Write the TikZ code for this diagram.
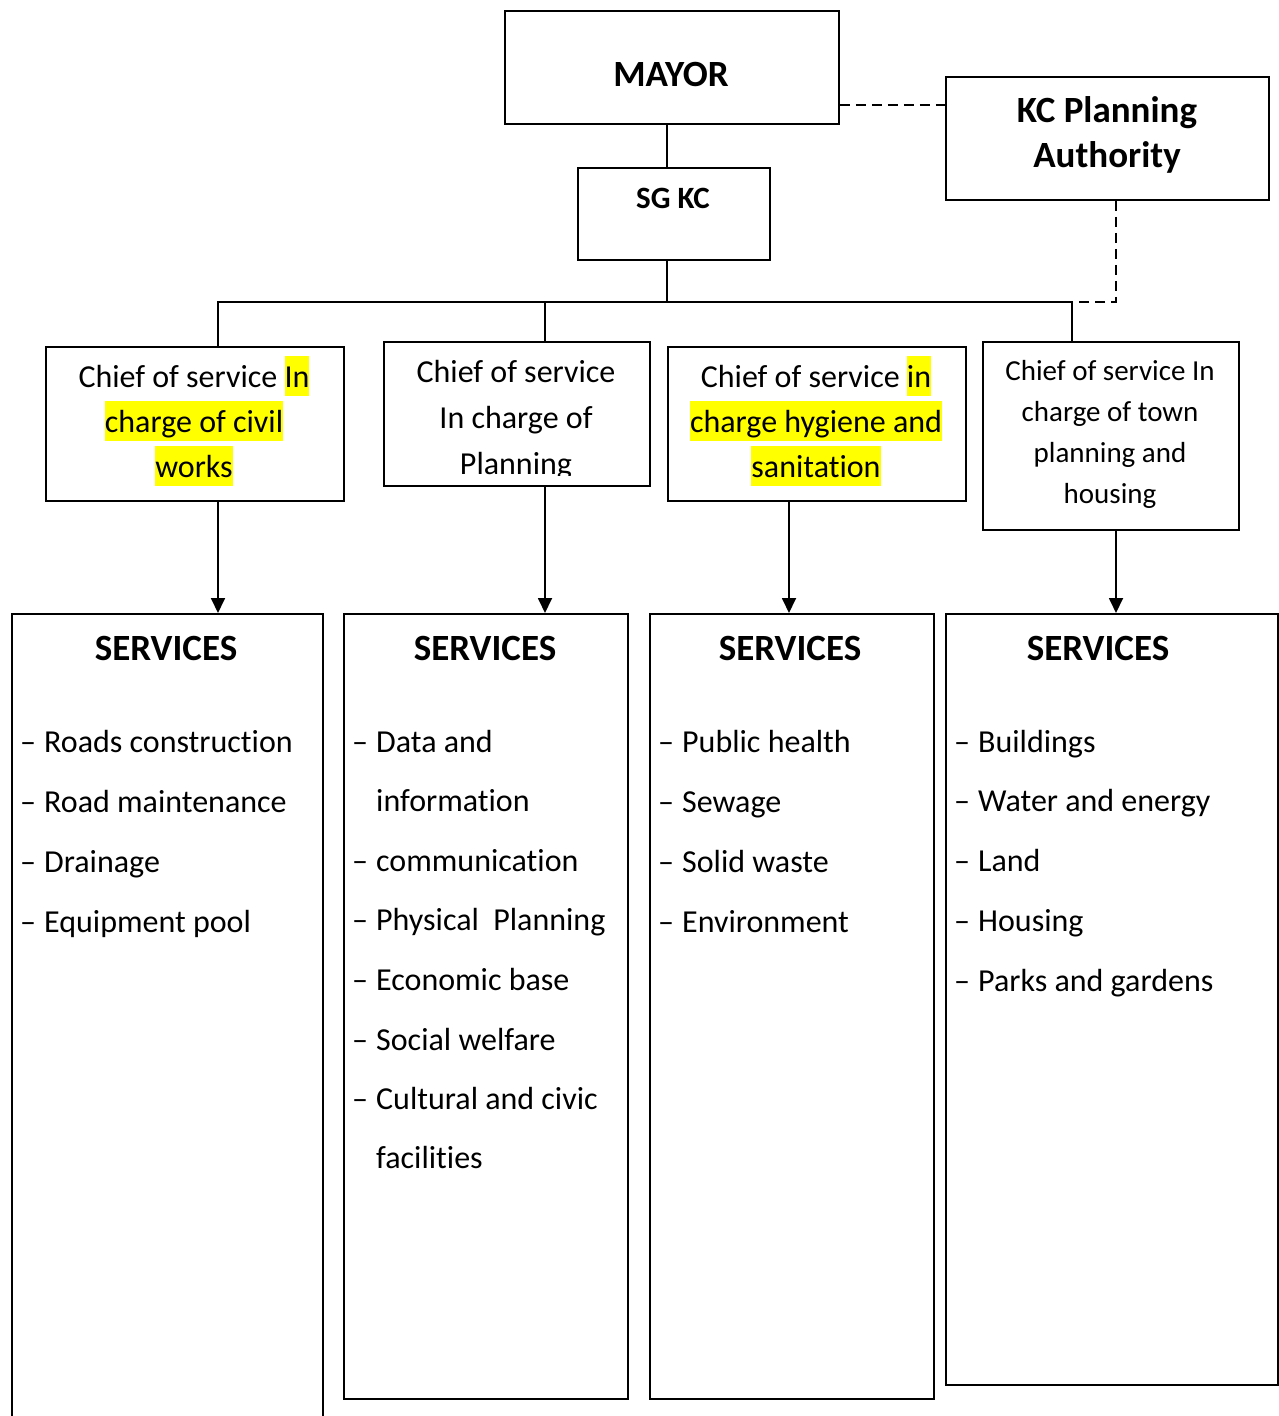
\documentclass[tikz,border=0pt]{standalone}
\usepackage{fontspec}
\setmainfont{Carlito}[Ligatures=NoCommon]
\usetikzlibrary{arrows.meta,calc}
\definecolor{hly}{RGB}{255,255,0}
\newcommand\fbig{\fontsize{37}{44}\selectfont\bfseries}
\newcommand\fsg{\fontsize{31}{38}\selectfont\bfseries}
\newcommand\fmid{\fontsize{32}{40}\selectfont}
\newcommand\fsm{\fontsize{29}{36}\selectfont}
\newcommand\hlt[1]{{\setlength{\fboxsep}{0pt}\colorbox{hly}{\rule[-0.28em]{0pt}{1.25em}#1}}}
\newcommand\itm[1]{\makebox[24pt][l]{–}#1}
\newcommand\cnt[1]{\hspace*{24pt}#1}
\tikzset{
  boxnode/.style={draw, line width=1.8pt, inner sep=0pt, anchor=north west},
  txt/.style={inner sep=0pt, anchor=base},
  itemtxt/.style={inner sep=0pt, anchor=base west, font=\fmid},
  conn/.style={line width=1.8pt},
  dashconn/.style={line width=1.8pt, dash pattern=on 10pt off 6pt},
  arr/.style={line width=1.8pt, -{Triangle[length=15pt,width=14pt]}}
}
\begin{document}
\begin{tikzpicture}[x=1pt,y=-1pt]
\useasboundingbox[fill=white] (0,0) rectangle (1278,1416);

% top boxes
\node[boxnode, minimum width=334pt, minimum height=113pt] (mayor) at (504,10) {};
\node[txt, font=\fbig] (mayorT) at (671,86) {MAYOR};
\node[boxnode, minimum width=323pt, minimum height=123pt] (kc) at (945,76) {};
\node[txt, font=\fbig] (kcT1) at (1107,122) {KC Planning};
\node[txt, font=\fbig] (kcT2) at (1107,167) {Authority};
\node[boxnode, minimum width=192pt, minimum height=92pt] (sg) at (577,167) {};
\node[txt, font=\fsg] (sgT) at (673,208) {SG KC};

% chief boxes
\node[boxnode, minimum width=298pt, minimum height=154pt] (b1) at (45,346) {};
\node[txt, font=\fmid] (b1a) at (194,387) {Chief of service \hlt{In}};
\node[txt, font=\fmid] (b1b) at (194,432) {\hlt{charge of civil}};
\node[txt, font=\fmid] (b1c) at (194,477) {\hlt{works}};

\node[boxnode, minimum width=266pt, minimum height=144pt] (b2) at (383,341) {};
\begin{scope}
\clip (383,341) rectangle (649,475.5);
\node[txt, font=\fmid] (b2a) at (516,382) {Chief of service};
\node[txt, font=\fmid] (b2b) at (516,428) {In charge of};
\node[txt, font=\fmid] (b2c) at (516,474) {Planning};
\end{scope}

\node[boxnode, minimum width=298pt, minimum height=154pt] (b3) at (667,346) {};
\node[txt, font=\fmid] (b3a) at (816,387) {Chief of service \hlt{in}};
\node[txt, font=\fmid] (b3b) at (816,432) {\hlt{charge hygiene and}};
\node[txt, font=\fmid] (b3c) at (816,477) {\hlt{sanitation}};

\node[boxnode, minimum width=256pt, minimum height=188pt] (b4) at (982,341) {};
\node[txt, font=\fsm] (b4a) at (1110,380) {Chief of service In};
\node[txt, font=\fsm] (b4b) at (1110,421) {charge of town};
\node[txt, font=\fsm] (b4c) at (1110,462) {planning and};
\node[txt, font=\fsm] (b4d) at (1110,503) {housing};

% services boxes
\node[boxnode, minimum width=311pt, minimum height=830pt] (s1) at (11,613) {};
\node[boxnode, minimum width=284pt, minimum height=785pt] (s2) at (343,613) {};
\node[boxnode, minimum width=284pt, minimum height=785pt] (s3) at (649,613) {};
\node[boxnode, minimum width=332pt, minimum height=771pt] (s4) at (945,613) {};

\node[txt, font=\fbig] (s1T) at (166,660) {SERVICES};
\node[txt, font=\fbig] (s2T) at (485,660) {SERVICES};
\node[txt, font=\fbig] (s3T) at (790,660) {SERVICES};
\node[txt, font=\fbig] (s4T) at (1098,660) {SERVICES};

\node[itemtxt] (s1i1) at (20,752) {\itm{Roads construction}};
\node[itemtxt] (s1i2) at (20,812) {\itm{Road maintenance}};
\node[itemtxt] (s1i3) at (20,872) {\itm{Drainage}};
\node[itemtxt] (s1i4) at (20,932) {\itm{Equipment pool}};

\node[itemtxt] (s2i1) at (352,752) {\itm{Data and}};
\node[itemtxt] (s2i2) at (352,811) {\cnt{information}};
\node[itemtxt] (s2i3) at (352,871) {\itm{communication}};
\node[itemtxt] (s2i4) at (352,930) {\itm{Physical\ \ Planning}};
\node[itemtxt] (s2i5) at (352,990) {\itm{Economic base}};
\node[itemtxt] (s2i6) at (352,1050) {\itm{Social welfare}};
\node[itemtxt] (s2i7) at (352,1109) {\itm{Cultural and civic}};
\node[itemtxt] (s2i8) at (352,1168) {\cnt{facilities}};

\node[itemtxt] (s3i1) at (658,752) {\itm{Public health}};
\node[itemtxt] (s3i2) at (658,812) {\itm{Sewage}};
\node[itemtxt] (s3i3) at (658,872) {\itm{Solid waste}};
\node[itemtxt] (s3i4) at (658,932) {\itm{Environment}};

\node[itemtxt] (s4i1) at (954,752) {\itm{Buildings}};
\node[itemtxt] (s4i2) at (954,811) {\itm{Water and energy}};
\node[itemtxt] (s4i3) at (954,871) {\itm{Land}};
\node[itemtxt] (s4i4) at (954,931) {\itm{Housing}};
\node[itemtxt] (s4i5) at (954,991) {\itm{Parks and gardens}};

% connectors
\coordinate (spine) at (667,302);
\coordinate (c1) at (218,302);
\coordinate (c2) at (545,302);
\coordinate (c4) at (1072,302);
\coordinate (a3) at (789,0);
\coordinate (a4) at (1116,0);
\coordinate (dy) at (0,105);

\draw[conn] (spine |- mayor.south) -- (spine |- sg.north);
\draw[conn] (spine |- sg.south) -- (spine);
\draw[conn] (c1 |- b1.north) -- (c1) -- (c4) -- (c4 |- b4.north);
\draw[conn] (c2) -- (c2 |- b2.north);

\draw[dashconn] (mayor.east |- dy) -- (kc.west |- dy);
\draw[dashconn] (a4 |- kc.south) |- (c4);

\draw[arr] (c1 |- b1.south) -- (c1 |- s1.north);
\draw[arr] (c2 |- b2.south) -- (c2 |- s2.north);
\draw[arr] (a3 |- b3.south) -- (a3 |- s3.north);
\draw[arr] (a4 |- b4.south) -- (a4 |- s4.north);
\end{tikzpicture}
\end{document}
